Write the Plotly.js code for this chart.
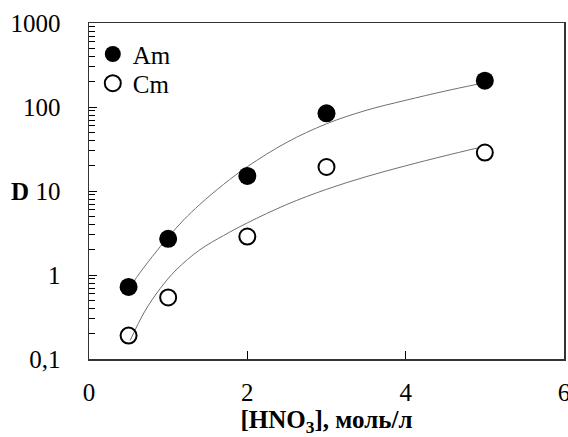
<!DOCTYPE html>
<html>
<head>
<meta charset="utf-8">
<script src="https://cdn.plot.ly/plotly-3.0.1.min.js"></script>
<style>html,body{margin:0;padding:0;background:#fff;}#chart{width:568px;height:437px;}</style>
</head>
<body>
<div id="chart"></div>
<script>
// Experimental points
const hno3 = [0.5, 1, 2, 3, 5];
const dAm = [0.72, 2.7, 15.1, 84, 206];
const dCm = [0.19, 0.54, 2.87, 19.3, 28.7];

// Fitted curves
const fitAmX = [0.5, 0.6, 0.8, 1.0, 1.2, 1.4, 1.7, 2.0, 2.5, 3.0, 3.5, 4.0, 4.5, 4.9];
const fitAmY = [0.676, 0.933, 1.66, 2.82, 4.57, 6.92, 12.0, 19.5, 38.0, 63.1, 91.2, 120.2, 154.9, 186.2];
const fitCmX = [0.52, 0.7, 0.9, 1.1, 1.4, 1.7, 2.0, 2.5, 3.0, 3.5, 4.0, 4.5, 4.9];
const fitCmY = [0.166, 0.363, 0.692, 1.148, 1.995, 2.95, 4.17, 6.92, 10.47, 14.8, 19.95, 26.3, 32.4];

// Tick labels
const xTicks = [0, 2, 4, 6];
const yTickVals = [0.1, 1, 10, 100, 1000];
const yTickText = ['0,1', '1', '10', '100', '1000'];
const yMinor = [];
[0.1, 1, 10, 100].forEach(function (d) { for (let k = 2; k <= 9; k++) yMinor.push(d * k); });

const font = "Liberation Serif, Times New Roman, serif";
const fs = 25;

const traces = [
  {x: fitAmX, y: fitAmY, mode: 'lines', line: {color: '#707070', width: 1, shape: 'spline'}, showlegend: false, hoverinfo: 'skip'},
  {x: fitCmX, y: fitCmY, mode: 'lines', line: {color: '#707070', width: 1, shape: 'spline'}, showlegend: false, hoverinfo: 'skip'},
  {x: hno3, y: dAm, name: 'Am', legend: 'legend', mode: 'markers', marker: {symbol: 'circle', size: 18, color: '#000'}},
  {x: hno3, y: dCm, name: 'Cm', legend: 'legend2', mode: 'markers', marker: {symbol: 'circle-open', size: 16, color: '#000', line: {width: 2}}}
];

const legendBase = {xanchor: 'left', yanchor: 'middle', bgcolor: 'rgba(0,0,0,0)', borderwidth: 0, font: {family: font, size: fs, color: '#000'}};

const layout = {
  width: 568, height: 437,
  margin: {l: 88.5, r: 4, t: 23, b: 78},
  paper_bgcolor: '#fff', plot_bgcolor: '#fff',
  font: {family: font, size: fs, color: '#000'},
  showlegend: true,
  legend: Object.assign({x: 0.008, y: 0.907}, legendBase),
  legend2: Object.assign({x: 0.008, y: 0.82}, legendBase),
  xaxis: {
    range: [0, 6], tickmode: 'array', tickvals: xTicks, ticktext: xTicks.map(String),
    ticks: 'inside', ticklen: 8, tickcolor: '#000', tickwidth: 1,
    showline: true, linecolor: '#333', linewidth: 1.5, mirror: true,
    showgrid: false, zeroline: false, ticklabelstandoff: 10, ticklabeloverflow: 'allow',
    tickfont: {family: font, size: fs, color: '#000'},
    title: {text: '<b>[HNO<sub>3</sub>], моль/л</b>', font: {family: font, size: fs, color: '#000'}, standoff: 11}
  },
  yaxis: {
    type: 'log', range: [-1, 3], tickmode: 'array', tickvals: yTickVals, ticktext: yTickText,
    ticks: 'inside', ticklen: 8, tickcolor: '#000', tickwidth: 1,
    minor: {tickvals: yMinor, ticks: 'inside', ticklen: 6, tickcolor: '#000', tickwidth: 1, showgrid: false},
    showline: true, linecolor: '#333', linewidth: 1.5, mirror: true,
    showgrid: false, zeroline: false, ticklabelstandoff: 22,
    tickfont: {family: font, size: fs, color: '#000'}
  },
  annotations: [
    {text: '<b>D</b>', xref: 'paper', yref: 'y', x: -0.146, y: 1, xanchor: 'center', yanchor: 'middle', showarrow: false, font: {family: font, size: fs, color: '#000'}}
  ]
};

Plotly.newPlot('chart', traces, layout, {displayModeBar: false, staticPlot: true});
</script>
</body>
</html>
